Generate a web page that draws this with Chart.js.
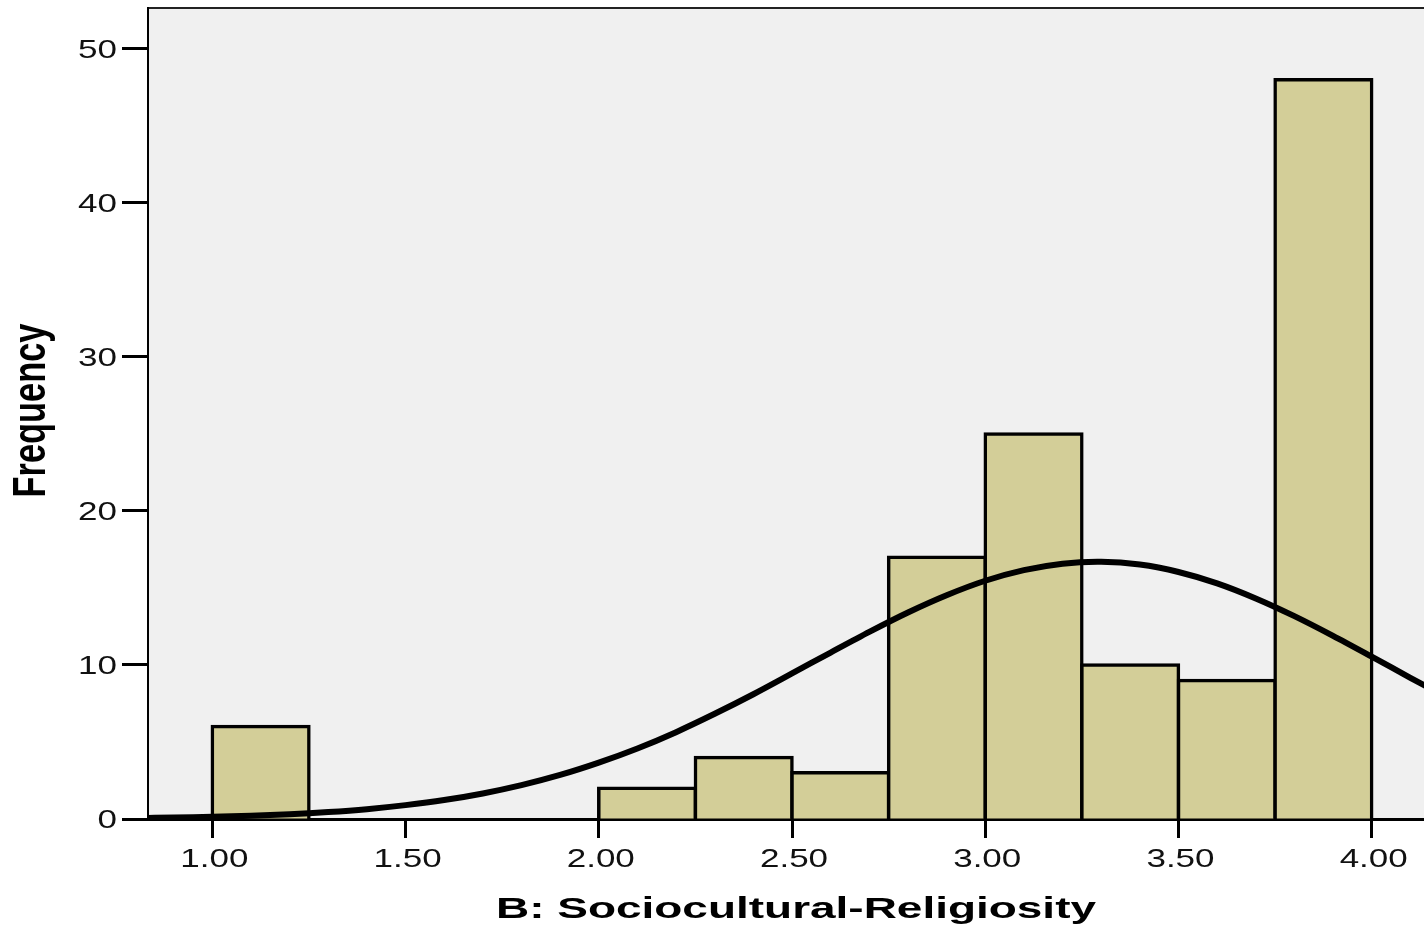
<!DOCTYPE html>
<html>
<head>
<meta charset="utf-8">
<script src="https://cdn.jsdelivr.net/npm/chart.js@4/dist/chart.umd.min.js"></script>
<style>
  html, body { margin: 0; padding: 0; background: #ffffff; }
  #wrap { width: 1424px; height: 926px; }
</style>
</head>
<body>
<div id="wrap"><canvas id="c" width="1424" height="926"></canvas></div>
<script>
// ---- Data ----
const binCenters = [1.125, 2.125, 2.375, 2.625, 2.875, 3.125, 3.375, 3.625, 3.875];
const frequencies = [6, 2, 4, 3, 17, 25, 10, 9, 48];

const curveX = [0.8, 0.9, 1.0, 1.1, 1.2, 1.3, 1.4, 1.5, 1.6, 1.7, 1.8, 1.9, 2.0, 2.1, 2.2, 2.3, 2.4, 2.5,
                2.6, 2.7, 2.8, 2.9, 3.0, 3.1, 3.2, 3.3, 3.4, 3.5, 3.6, 3.7, 3.8, 3.9, 4.0, 4.1, 4.2];
const curveY = [0.06, 0.09, 0.14, 0.21, 0.31, 0.45, 0.64, 0.90, 1.23, 1.66, 2.20, 2.86, 3.66, 4.58, 5.64, 6.83, 8.10, 9.45,
                10.81, 12.15, 13.41, 14.53, 15.47, 16.16, 16.58, 16.70, 16.52, 16.04, 15.30, 14.32, 13.17, 11.89, 10.54, 9.17, 7.84];

const xTickValues = [1.0, 1.5, 2.0, 2.5, 3.0, 3.5, 4.0];
const xTickLabels = ['1.00', '1.50', '2.00', '2.50', '3.00', '3.50', '4.00'];
const yTickValues = [0, 10, 20, 30, 40, 50];
const yTickLabels = ['0', '10', '20', '30', '40', '50'];

const xTitle = 'B: Sociocultural-Religiosity';
const yTitle = 'Frequency';

// ---- Chart ----
const bgPlugin = {
  id: 'plotBg',
  beforeDraw(chart) {
    const { ctx, chartArea: a } = chart;
    ctx.save();
    ctx.fillStyle = '#F0F0F0';
    ctx.fillRect(a.left, a.top, a.right - a.left, a.bottom - a.top);
    ctx.strokeStyle = '#222';
    ctx.lineWidth = 2;
    ctx.beginPath();
    ctx.moveTo(a.left, a.top);
    ctx.lineTo(a.right, a.top);
    ctx.stroke();
    ctx.restore();
  }
};

const textPlugin = {
  id: 'labels',
  afterDraw(chart) {
    const { ctx } = chart;
    const xs = chart.scales.x, ys = chart.scales.y;
    ctx.save();
    ctx.fillStyle = '#111';
    ctx.font = '25px "Liberation Sans", Arial, sans-serif';
    ctx.textBaseline = 'alphabetic';
    // y tick labels
    ctx.textAlign = 'right';
    yTickValues.forEach((v, i) => {
      const py = ys.getPixelForValue(v);
      ctx.save();
      ctx.translate(ys.right - 26 - 5, py + 9);
      ctx.scale(1.4, 1);
      ctx.fillText(yTickLabels[i], 0, 0);
      ctx.restore();
    });
    // x tick labels
    ctx.textAlign = 'center';
    xTickValues.forEach((v, i) => {
      const px = xs.getPixelForValue(v);
      ctx.save();
      ctx.translate(px + 2, xs.top + 48);
      ctx.scale(1.4, 1);
      ctx.fillText(xTickLabels[i], 0, 0);
      ctx.restore();
    });
    // x axis title
    ctx.fillStyle = '#000';
    ctx.font = 'bold 29px "Liberation Sans", Arial, sans-serif';
    let w = ctx.measureText(xTitle).width;
    ctx.save();
    ctx.translate(796, 917.5);
    ctx.scale(600 / w, 1);
    ctx.textAlign = 'center';
    ctx.fillText(xTitle, 0, 0);
    ctx.restore();
    // y axis title
    ctx.font = 'bold 34px "Liberation Sans", Arial, sans-serif';
    w = ctx.measureText(yTitle).width;
    ctx.save();
    ctx.translate(45, 410.5);
    ctx.rotate(-Math.PI / 2);
    ctx.scale(174 / w, 1.36);
    ctx.textAlign = 'center';
    ctx.fillText(yTitle, 0, 0);
    ctx.restore();
    ctx.restore();
  }
};

new Chart(document.getElementById('c'), {
  data: {
    datasets: [
      {
        type: 'line',
        order: 0,
        data: curveX.map((x, i) => ({ x: x, y: curveY[i] })),
        borderColor: '#000',
        borderWidth: 6,
        pointRadius: 0,
        tension: 0.3,
        fill: false,
        clip: 0
      },
      {
        type: 'bar',
        order: 1,
        data: binCenters.map((x, i) => ({ x: x, y: frequencies[i] })),
        backgroundColor: '#D3CE98',
        borderColor: '#000',
        borderWidth: 3.5,
        inflateAmount: 1.75,
        borderSkipped: 'start',
        barPercentage: 1.0,
        categoryPercentage: 1.0
      }
    ]
  },
  options: {
    responsive: false,
    devicePixelRatio: 1,
    animation: false,
    layout: { padding: { top: 8, right: 0, left: 0, bottom: 0 } },
    plugins: { legend: { display: false }, tooltip: { enabled: false }, title: { display: false } },
    scales: {
      x: {
        type: 'linear',
        position: 'bottom',
        min: 0.8336,
        max: 4.1353,
        offset: false,
        z: 1,
        ticks: { display: false },
        grid: { display: true, offset: false, drawOnChartArea: false, drawTicks: true, tickLength: 19, tickWidth: 3, tickColor: '#000' },
        border: { display: true, color: '#000', width: 3 },
        afterBuildTicks(s) { s.ticks = xTickValues.map(v => ({ value: v })); },
        afterFit(s) { s.height = 107; }
      },
      y: {
        type: 'linear',
        position: 'left',
        min: 0,
        max: 52.66,
        ticks: { display: false },
        grid: { display: true, drawOnChartArea: false, drawTicks: true, tickLength: 26, tickWidth: 3, tickColor: '#000' },
        border: { display: true, color: '#000', width: 2 },
        afterBuildTicks(s) { s.ticks = yTickValues.map(v => ({ value: v })); },
        afterFit(s) { s.width = 148; }
      }
    }
  },
  plugins: [bgPlugin, textPlugin]
});
</script>
</body>
</html>
